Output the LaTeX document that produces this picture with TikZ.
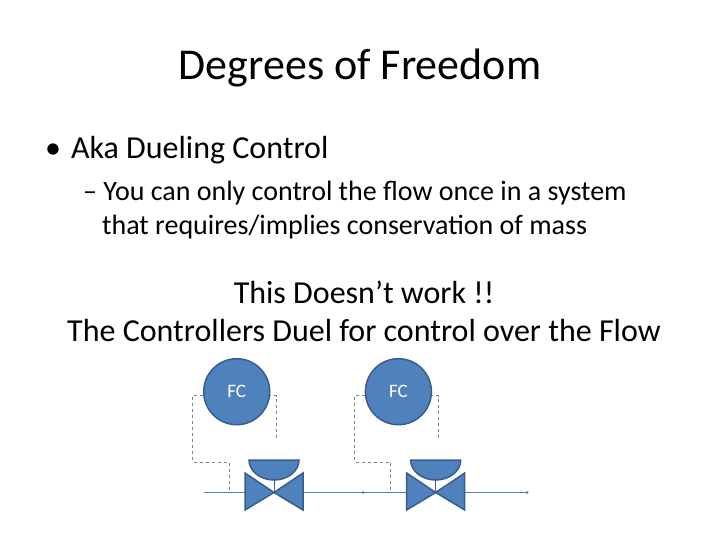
\documentclass[tikz,border=0pt]{standalone}
\usepackage{fontspec}
\setmainfont{Carlito}
\definecolor{fcfill}{RGB}{79,129,189}
\definecolor{fcline}{RGB}{56,93,138}
\begin{document}
\begin{tikzpicture}[x=1pt,y=-1pt,
  fcirc/.style={circle, draw=fcline, line width=1.5pt, fill=fcfill, minimum size=66pt, inner sep=0pt, text=white, font=\fontsize{19}{20}\selectfont},
  shp/.style={draw=fcline, line width=1.5pt, fill=fcfill, line join=miter},
  pipe/.style={draw=fcfill, line width=1.2pt},
  sig/.style={draw=gray, dashed, line width=0.6pt},
  txt/.style={anchor=base west, inner sep=0pt}]
\useasboundingbox (0,0) rectangle (720,540);
\node[anchor=base, inner sep=0pt, font=\fontsize{44}{48}\selectfont] (title) at (360,80) {Degrees of Freedom};
\node[txt, font=\fontsize{32}{36}\selectfont] (b1) at (45,159) {•\hspace{10pt}Aka Dueling Control};
\node[txt, font=\fontsize{28}{32}\selectfont] (b2) at (83,201) {– You can only control the flow once in a system};
\node[txt, font=\fontsize{28}{32}\selectfont] (b3) at (102,234) {that requires/implies conservation of mass};
\node[anchor=base, inner sep=0pt, font=\fontsize{32}{36}\selectfont] (t1) at (364,303) {This Doesn’t work !!};
\node[anchor=base, inner sep=0pt, font=\fontsize{32}{36}\selectfont] (t2) at (364,341) {The Controllers Duel for control over the Flow};
% pipe
\coordinate (p0) at (204,492.5);
\coordinate (pm) at (363,492.5);
\coordinate (p1) at (527,492.5);
\draw[pipe] (p0) -- (p1);
\fill[fcfill] (pm) circle (1.5) (p1) circle (1.5);
\foreach \dx/\n in {0/a,161.7/b}{
  \begin{scope}[xshift=\dx]
  \draw[sig] (203,395.7) -- (192.7,395.7) -- (192.7,462) -- (229,462) -- (229,492.5);
  \draw[sig] (268,395.7) -- (276.7,395.7) -- (276.7,440.7);
  \draw[fcline, line width=0.8pt] (274,460) -- (274,492.5);
  \path[shp] (249,460) arc[start angle=180,end angle=0,x radius=25,y radius=20] -- cycle;
  \path[shp] (245,473) -- (274,492.5) -- (245,510) -- cycle;
  \path[shp] (303,473) -- (274,492.5) -- (303,510) -- cycle;
  \node[fcirc] (fc\n) at (236.7,391.7) {FC};
  \end{scope}
}
\end{tikzpicture}
\end{document}
